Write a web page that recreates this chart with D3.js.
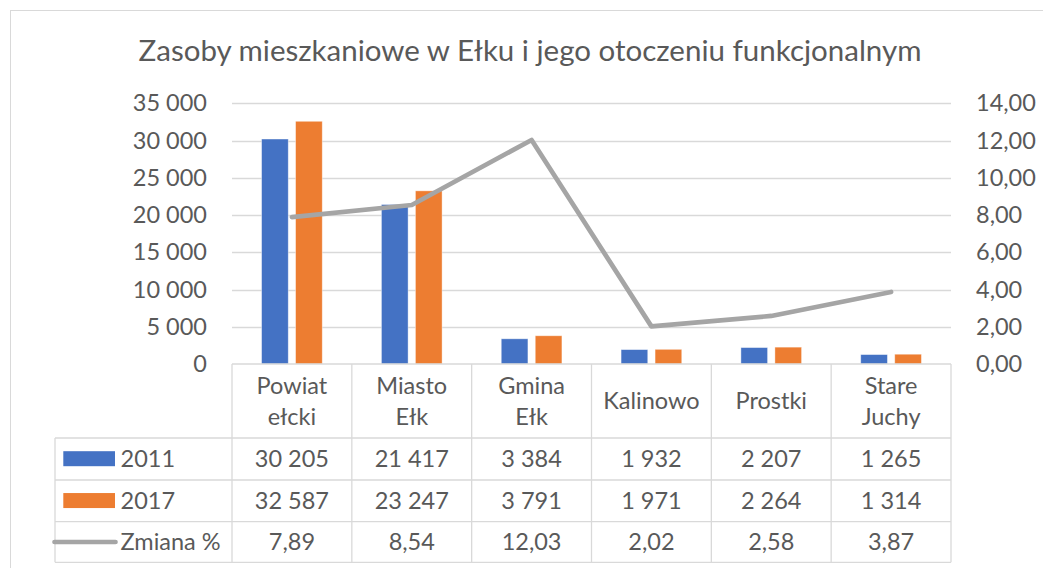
<!DOCTYPE html>
<html>
<head>
<meta charset="utf-8">
<script src="https://cdn.jsdelivr.net/npm/d3@7"></script>
<style>
  body { margin: 0; background: #fff; }
  text { font-family: Lato, "Open Sans", sans-serif; fill: #595959; }
</style>
</head>
<body>
<svg width="1043" height="568"></svg>
<script>
// data
var categories = [["Powiat", "ełcki"], ["Miasto", "Ełk"], ["Gmina", "Ełk"], ["Kalinowo"], ["Prostki"], ["Stare", "Juchy"]];
var values2011 = [30205, 21417, 3384, 1932, 2207, 1265];
var values2017 = [32587, 23247, 3791, 1971, 2264, 1314];
var zmiana = [7.89, 8.54, 12.03, 2.02, 2.58, 3.87];
var leftTicks = [0, 5000, 10000, 15000, 20000, 25000, 30000, 35000];
var rightTicks = [0, 2, 4, 6, 8, 10, 12, 14];

var series = [
  { name: "2011", values: values2011, color: "#4472C4" },
  { name: "2017", values: values2017, color: "#ED7D31" }
];

var pl = d3.formatLocale({ decimal: ",", thousands: "\u00a0", grouping: [3], currency: ["", " zł"] });
var fmtInt = pl.format(",d"), fmtDec = pl.format(".2f");

var svg = d3.select("svg");
var grid = "#D9D9D9";
var fs = "23.5px";

// chart frame
svg.append("rect")
  .attr("x", 10.5).attr("y", 10.5)
  .attr("width", 1050).attr("height", 580)
  .attr("fill", "none").attr("stroke", grid);

// title
svg.append("text")
  .attr("x", 530).attr("y", 61)
  .attr("text-anchor", "middle")
  .style("font-size", "29.5px")
  .text("Zasoby mieszkaniowe w Ełku i jego otoczeniu funkcjonalnym");

var plotLeft = 232, plotRight = 951, plotTop = 103.3, plotBottom = 364;

var x0 = d3.scaleBand().domain(d3.range(categories.length)).range([plotLeft, plotRight]);
var x1 = d3.scaleBand().domain(series.map(function(s) { return s.name; }))
  .range([0, x0.bandwidth()]).paddingInner(0.215).paddingOuter(0.87);
var yL = d3.scaleLinear().domain([0, 35000]).range([plotBottom, plotTop]);
var yR = d3.scaleLinear().domain([0, 14]).range([plotBottom, plotTop]);

// gridlines
svg.append("g").selectAll("line")
  .data(leftTicks.filter(function(d) { return d > 0; }))
  .enter().append("line")
  .attr("x1", plotLeft).attr("x2", plotRight)
  .attr("y1", function(d) { return Math.round(yL(d)) + 0.5; })
  .attr("y2", function(d) { return Math.round(yL(d)) + 0.5; })
  .attr("stroke", grid).attr("stroke-width", 1.3);

// left axis
var axL = svg.append("g")
  .attr("transform", "translate(" + (plotLeft - 25) + ",0)")
  .call(d3.axisLeft(yL).tickValues(leftTicks).tickFormat(fmtInt).tickSize(0).tickPadding(0));
axL.select(".domain").remove();
axL.selectAll("text").style("font-size", fs).attr("fill", "#595959").style("font-family", null);

// right axis
var axR = svg.append("g")
  .attr("transform", "translate(" + (plotRight + 25) + ",0)")
  .call(d3.axisRight(yR).tickValues(rightTicks).tickFormat(fmtDec).tickSize(0).tickPadding(0));
axR.select(".domain").remove();
axR.selectAll("text").style("font-size", fs).attr("fill", "#595959").style("font-family", null);

// bars
svg.append("g").selectAll("g")
  .data(series).enter().append("g")
  .attr("fill", function(s) { return s.color; })
  .selectAll("rect")
  .data(function(s) { return s.values.map(function(v, i) { return { i: i, v: v, s: s.name }; }); })
  .enter().append("rect")
  .attr("x", function(d) { return x0(d.i) + x1(d.s); })
  .attr("width", x1.bandwidth())
  .attr("y", function(d) { return yL(d.v); })
  .attr("height", function(d) { return plotBottom - yL(d.v); })
  .attr("stroke", "#fff").attr("stroke-opacity", 0.5).attr("stroke-width", 0.8);

// line on secondary axis
var line = d3.line()
  .x(function(d, i) { return x0(i) + x0.bandwidth() / 2; })
  .y(function(d) { return yR(d); });
svg.append("path")
  .datum(zmiana)
  .attr("d", line)
  .attr("fill", "none").attr("stroke", "#A5A5A5")
  .attr("stroke-width", 4.7).attr("stroke-linecap", "round").attr("stroke-linejoin", "round");

// data table
var tLeft = 55;
var rowY = [plotBottom, 438, 480, 521.7, 562.3];
var tbl = svg.append("g").attr("stroke", grid).attr("stroke-width", 1.3);
tbl.append("line").attr("x1", plotLeft).attr("x2", plotRight).attr("y1", plotBottom).attr("y2", plotBottom);
rowY.slice(1).forEach(function(y) {
  tbl.append("line").attr("x1", tLeft).attr("x2", plotRight).attr("y1", y).attr("y2", y);
});
d3.range(categories.length + 1).forEach(function(i) {
  var x = i < categories.length ? x0(i) : plotRight;
  tbl.append("line").attr("x1", x).attr("x2", x).attr("y1", plotBottom).attr("y2", rowY[4]);
});
tbl.append("line").attr("x1", tLeft).attr("x2", tLeft).attr("y1", rowY[1]).attr("y2", rowY[4]);

// header labels
var hdr = svg.append("g").selectAll("text")
  .data(categories).enter().append("text")
  .attr("text-anchor", "middle")
  .style("font-size", fs)
  .attr("x", function(d, i) { return x0(i) + x0.bandwidth() / 2; });
hdr.each(function(d) {
  var t = d3.select(this), mid = (rowY[0] + rowY[1]) / 2, lh = 31.7;
  d.forEach(function(s, k) {
    t.append("tspan")
      .attr("x", t.attr("x"))
      .attr("y", mid + (k - (d.length - 1) / 2) * lh)
      .attr("dy", "0.36em")
      .text(s);
  });
});

// table rows
var rows = [
  { label: "2011", vals: values2011.map(fmtInt), key: "bar", color: series[0].color },
  { label: "2017", vals: values2017.map(fmtInt), key: "bar", color: series[1].color },
  { label: "Zmiana %", vals: zmiana.map(fmtDec), key: "line", color: "#A5A5A5" }
];
rows.forEach(function(r, ri) {
  var mid = (rowY[ri + 1] + rowY[ri + 2]) / 2;
  if (r.key === "bar") {
    svg.append("rect").attr("x", 63.3).attr("y", mid - 7.8)
      .attr("width", 51.7).attr("height", 15).attr("fill", r.color);
  } else {
    svg.append("line").attr("x1", 54.5).attr("x2", 115.5).attr("y1", mid).attr("y2", mid)
      .attr("stroke", r.color).attr("stroke-width", 4.7).attr("stroke-linecap", "round");
  }
  svg.append("text").attr("x", 120.5).attr("y", mid).attr("dy", "0.36em")
    .style("font-size", fs).text(r.label);
  svg.append("g").selectAll("text").data(r.vals).enter().append("text")
    .attr("x", function(d, i) { return x0(i) + x0.bandwidth() / 2; })
    .attr("y", mid).attr("dy", "0.36em")
    .attr("text-anchor", "middle")
    .style("font-size", fs)
    .text(function(d) { return d; });
});
</script>
</body>
</html>
